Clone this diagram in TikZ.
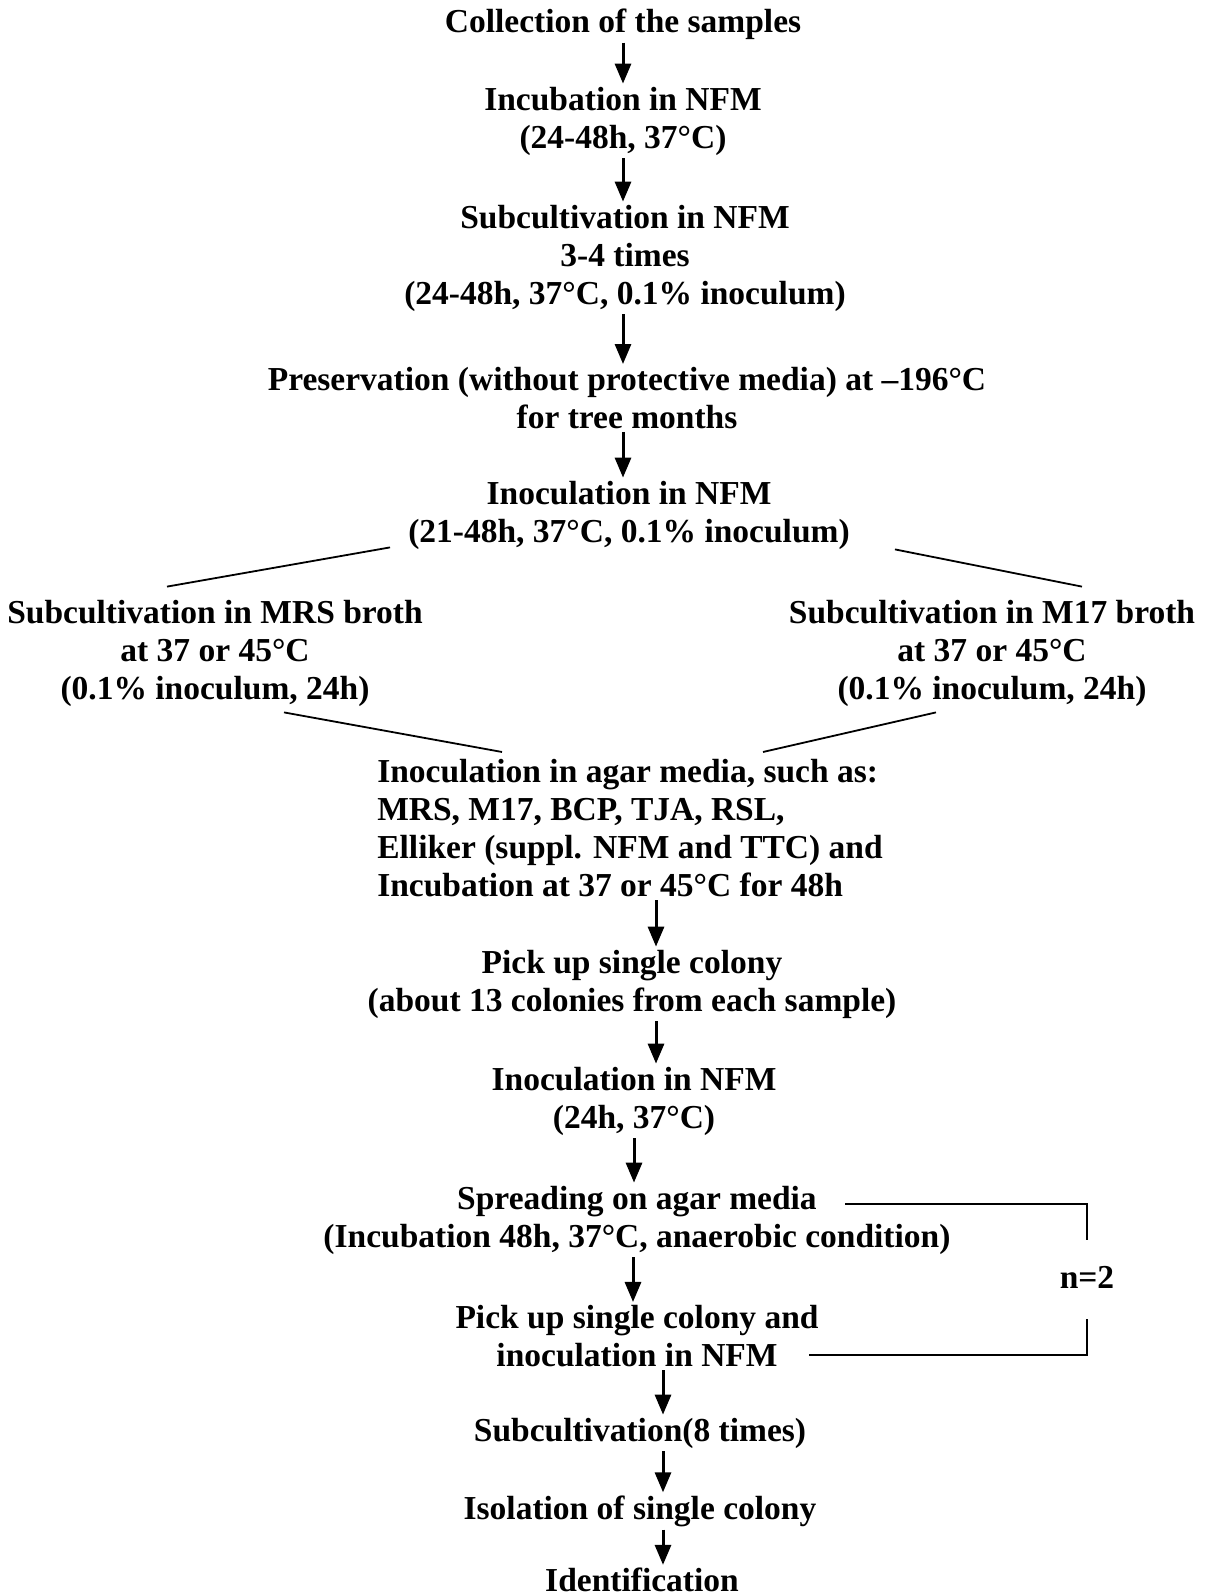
\documentclass[tikz,border=0pt]{standalone}
\usepackage{fontspec}
\setmainfont{Liberation Serif}
\usetikzlibrary{arrows.meta}
\tikzset{
  stage/.style={font=\fontsize{33.5}{38}\selectfont\bfseries, align=center, inner sep=3pt},
  flow/.style={line width=3pt, -{Triangle[length=20pt,width=16pt]}},
  link/.style={line width=1.8pt},
}
\begin{document}
\begin{tikzpicture}[x=1pt,y=-1pt]
\useasboundingbox (0,0) rectangle (1223,1596);
\node[stage] (collect) at (623,24) {Collection of the samples};
\node[stage] (incub) at (623,121) {Incubation in NFM\\(24-48h, 37°C)};
\node[stage] (subNFM) at (625,258) {Subcultivation in NFM\\3-4 times\\(24-48h, 37°C, 0.1\% inoculum)};
\node[stage] (preserve) at (627,398) {Preservation (without protective media) at –196°C\\for tree months};
\node[stage] (inocNFM) at (629,515) {Inoculation in NFM\\(21-48h, 37°C, 0.1\% inoculum)};
\node[stage] (mrs) at (215,653) {Subcultivation in MRS broth\\at 37 or 45°C\\(0.1\% inoculum, 24h)};
\node[stage] (m17) at (992,653) {Subcultivation in M17 broth\\at 37 or 45°C\\(0.1\% inoculum, 24h)};
\node[stage, align=left] (agar) at (630,828) {Inoculation in agar media, such as:\\MRS, M17, BCP, TJA, RSL,\\Elliker (suppl. NFM and TTC) and\\Incubation at 37 or 45°C for 48h};
\node[stage] (pick) at (632,984) {Pick up single colony\\(about 13 colonies from each sample)};
\node[stage] (inoc24) at (634,1101) {Inoculation in NFM\\(24h, 37°C)};
\node[stage] (spread) at (637,1220) {Spreading on agar media\\(Incubation 48h, 37°C, anaerobic condition)};
\node[stage] (pick2) at (637,1336) {Pick up single colony and\\inoculation in NFM};
\node[stage] (subc8) at (640,1433) {Subcultivation(8 times)};
\node[stage] (isol) at (640,1511) {Isolation of single colony};
\node[stage] (ident) at (642,1580) {Identification};
\node[stage] (rep) at (1087,1277) {n=2};

\foreach \a/\b/\s in {collect/incub/0, incub/subNFM/0, subNFM/preserve/-2, preserve/inocNFM/-4,
  agar/pick/26, pick/inoc24/24, inoc24/spread/0, spread/pick2/-4,
  pick2/subc8/26, subc8/isol/23, isol/ident/23}
  \draw[flow] ([xshift=\s pt]\a.south) -- ([xshift=\s pt]\a.south |- \b.north);

\draw[link] ([xshift=-15pt,yshift=5pt]inocNFM.south west) -- ([xshift=-48pt,yshift=10pt]mrs.north);
\draw[link] ([xshift=42pt,yshift=3pt]inocNFM.south east) -- ([xshift=90pt,yshift=10pt]m17.north);
\draw[link] ([xshift=69pt,yshift=-3pt]mrs.south) -- ([xshift=-128pt,yshift=4pt]agar.north);
\draw[link] ([xshift=-56pt,yshift=-3pt]m17.south) -- ([xshift=133pt,yshift=4pt]agar.north);

\draw[link] ([xshift=208pt,yshift=-21pt]spread.north) -| ([yshift=23pt]rep.north);
\draw[link] ([xshift=172pt,yshift=15pt]pick2.south) -| ([yshift=-28pt]rep.south);
\end{tikzpicture}
\end{document}
